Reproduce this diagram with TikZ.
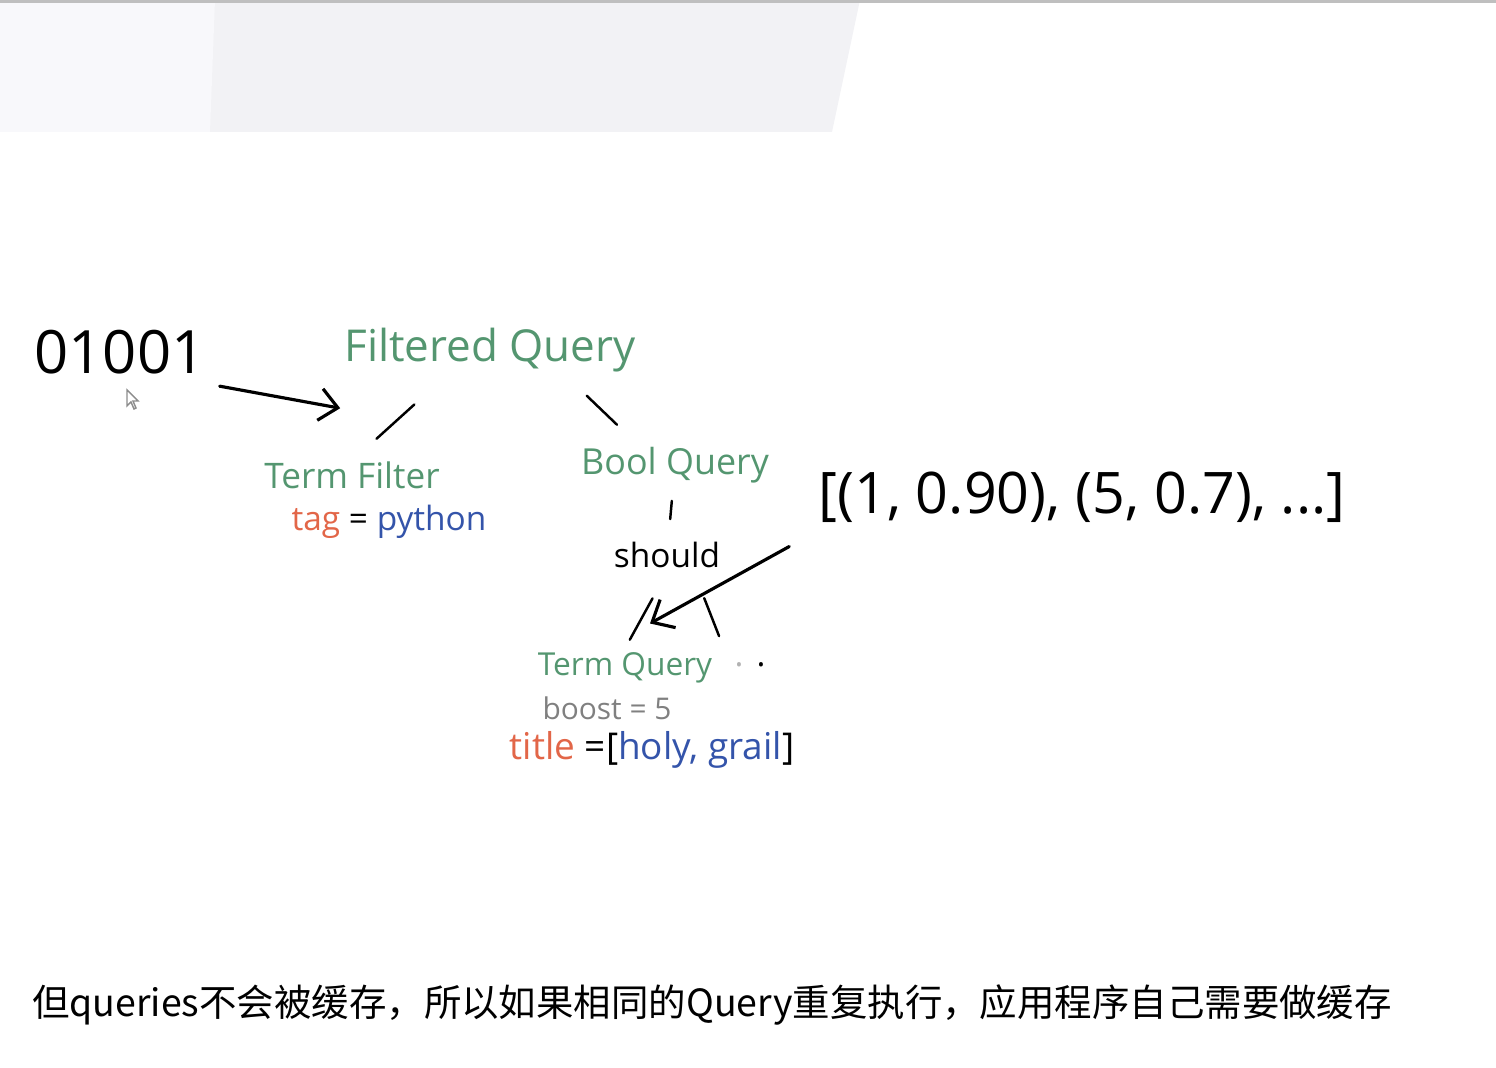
\documentclass[tikz,border=0pt]{standalone}
\usepackage{fontspec}
\setmainfont{Open Sans}
\newfontfamily\cjk{Noto Sans CJK SC}
\usepackage{tikz}
\usetikzlibrary{arrows.meta,positioning}

\definecolor{inkgreen}{RGB}{84,150,112}
\definecolor{inkred}{RGB}{226,102,72}
\definecolor{inkblue}{RGB}{52,84,170}
\definecolor{inkgray}{RGB}{128,128,128}
\definecolor{bandgray}{RGB}{242,242,245}
\definecolor{bandlight}{RGB}{248,248,251}

\tikzset{
  hand/.style={inner sep=1pt, font=\fontsize{9.5}{11}\selectfont},
  qname/.style={hand, text=inkgreen},
  stroke/.style={line width=0.7pt, line cap=round},
  pointer/.style={stroke, line width=0.9pt, -{Straight Barb[length=1.8mm,width=3.2mm]}},
}

\begin{document}
\begin{tikzpicture}[x=0.01cm, y=-0.01cm]
            \useasboundingbox (0,0) rectangle (1496,1068);
            % screenshot band at the top
            \fill[bandgray] (0,0) -- (860,0) -- (832,132) -- (0,132) -- cycle;
            \fill[bandlight] (0,0) -- (215,0) -- (210,132) -- (0,132) -- cycle;
            \draw[black!25, line width=1pt] (0,1) -- (1496,1);
            % mouse pointer
            \draw[black!45, fill=white, line width=0.4pt] (127,390) -- (127,406) -- (131,402) -- (134,409) -- (136,408) -- (133,401) -- (138,401) -- cycle;

            \node[hand, font=\fontsize{17}{20}\selectfont] (bits) at (120,352) {01001};
            \node[qname, font=\fontsize{12.5}{15}\selectfont] (fq) at (490,350) {Filtered Query};
            \node[qname, font=\fontsize{10}{12}\selectfont] (tf) at (352,475) {Term Filter};
            \node[hand] (tag) at (389,522) {\textcolor{inkred}{tag} = \textcolor{inkblue}{python}};
            \node[qname, font=\fontsize{10.2}{12}\selectfont] (bq) at (675,465) {Bool Query};
            \node[hand] (should) at (667,555) {should};
            \node[qname, font=\fontsize{9}{11}\selectfont] (tq) at (625,668) {Term Query};
            \node[hand] (more) at (750,665) {\textcolor{black!30}{.}\hspace{1.3mm}.};
            \node[hand, text=inkgray, font=\fontsize{8.5}{10}\selectfont] (boost) at (607,708) {boost = 5};
            \node[hand, font=\fontsize{10.5}{12}\selectfont] (title) at (652,750) {\textcolor{inkred}{title} =[\textcolor{inkblue}{holy, grail}]};
            \node[hand, font=\fontsize{16.3}{19}\selectfont] (hits) at (1082,497) {[(1, 0.90), (5, 0.7), ...]};
            \node[hand, font=\cjk\fontsize{10.65}{13}\selectfont] (note) at (712,1005) {但queries不会被缓存，所以如果相同的Query重复执行，应用程序自己需要做缓存};

            \draw[pointer] ([xshift=0.1cm, yshift=-0.08cm]bits.south east) -- ([yshift=-0.32cm]fq.south west);
            \draw[stroke, shorten <=1.02cm, shorten >=0.33cm] ([yshift=0.14cm]fq.center) -- ([yshift=0.14cm]tf.center);
            \draw[stroke, shorten <=0.66cm, shorten >=0.58cm] ([xshift=0.49cm]fq.center) -- ([xshift=-0.16cm]bq.center);
            \draw[stroke, shorten <=0.36cm, shorten >=0.36cm] (bq.center) -- (should.center);
            \draw[stroke, shorten <=0.3cm, shorten >=0.1cm] (should.south) -- (tq.north);
            \draw[stroke, shorten <=0.28cm, shorten >=0.31cm] ([xshift=0.27cm]should.south) -- (more.west);
            \draw[pointer] ([xshift=-0.25cm, yshift=-0.2cm]hits.south west) -- ([xshift=0.25cm, yshift=0.25cm]tq.north);
        \end{tikzpicture}
\end{document}
